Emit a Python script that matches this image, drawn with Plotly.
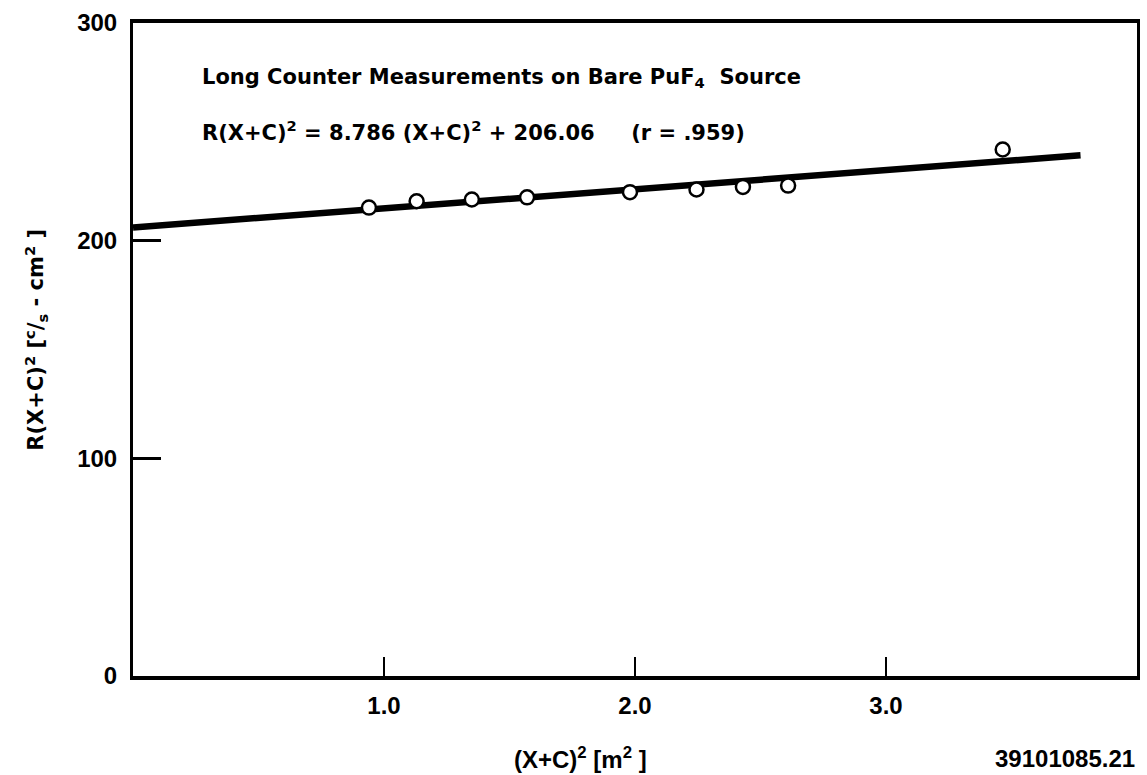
import plotly.graph_objects as go

# ---- data ----
x_sq = [0.94, 1.13, 1.35, 1.57, 1.98, 2.245, 2.43, 2.61, 3.465]          # (X+C)^2 [m^2]
r_sq = [215.2, 218.1, 218.9, 219.9, 222.3, 223.5, 224.7, 225.3, 241.9]    # R(X+C)^2
fit_slope = 8.786
fit_intercept = 206.06
fit_x = [0.0, 3.775]
x_ticks = [1.0, 2.0, 3.0]
x_tick_text = ["1.0", "2.0", "3.0"]
y_ticks = [0, 100, 200, 300]
y_tick_text = ["0", "100", "200", "300"]

fit_y = [fit_intercept + fit_slope * v for v in fit_x]

TICKFONT = dict(family="Liberation Sans, Arial, sans-serif", size=24, color="black", weight="bold")
TXTFONT = dict(family="DejaVu Sans, sans-serif", size=21, color="black", weight="bold")

fig = go.Figure()
fig.add_trace(go.Scatter(x=fit_x, y=fit_y, mode="lines",
                         line=dict(color="black", width=6.5), showlegend=False,
                         hoverinfo="skip"))
fig.add_trace(go.Scatter(x=x_sq, y=r_sq, mode="markers",
                         marker=dict(symbol="circle", size=14, color="white",
                                     line=dict(color="black", width=2.5)),
                         showlegend=False))

fig.update_layout(
    width=1147, height=775,
    margin=dict(l=133, r=7, t=23, b=99),
    paper_bgcolor="white", plot_bgcolor="white",
    xaxis=dict(range=[0, 4], tickvals=x_ticks, ticktext=x_tick_text,
               ticks="inside", ticklen=19, tickwidth=1.5, tickcolor="black",
               showline=True, linecolor="black", linewidth=3.5, mirror=True,
               showgrid=False, zeroline=False, tickfont=TICKFONT,
               ticklabelstandoff=5),
    yaxis=dict(range=[0, 300], tickvals=y_ticks, ticktext=y_tick_text,
               ticks="inside", ticklen=28, tickwidth=2.5, tickcolor="black",
               showline=True, linecolor="black", linewidth=3, mirror=True,
               showgrid=False, zeroline=False, tickfont=TICKFONT,
               ticklabelstandoff=8),
    annotations=[
        dict(text="Long Counter Measurements on Bare PuF<sub>4</sub>  Source",
             xref="paper", yref="paper", x=0.0665, y=0.916, xanchor="left",
             yanchor="middle", showarrow=False, font=TXTFONT),
        dict(text="R(X+C)<sup>2</sup> = 8.786 (X+C)<sup>2</sup> + 206.06     (r = .959)",
             xref="paper", yref="paper", x=0.0665, y=0.835, xanchor="left",
             yanchor="middle", showarrow=False, font=TXTFONT),
        dict(text="R(X+C)<sup>2</sup> [<sup>c</sup>/<sub>s</sub> - cm<sup>2</sup> ]",
             xref="paper", yref="paper", x=-0.097, y=0.5145, xanchor="center",
             yanchor="middle", textangle=-90, showarrow=False, font=TXTFONT),
        dict(text="(X+C)<sup>2</sup> [m<sup>2</sup> ]",
             xref="paper", yref="paper", x=0.446, y=-0.1256, xanchor="center",
             yanchor="middle", showarrow=False, font=TICKFONT),
        dict(text="39101085.21",
             xref="paper", yref="paper", x=1.0, y=-0.126, xanchor="right",
             yanchor="middle", showarrow=False, font=TICKFONT),
    ],
)

fig.write_html("out.html")
